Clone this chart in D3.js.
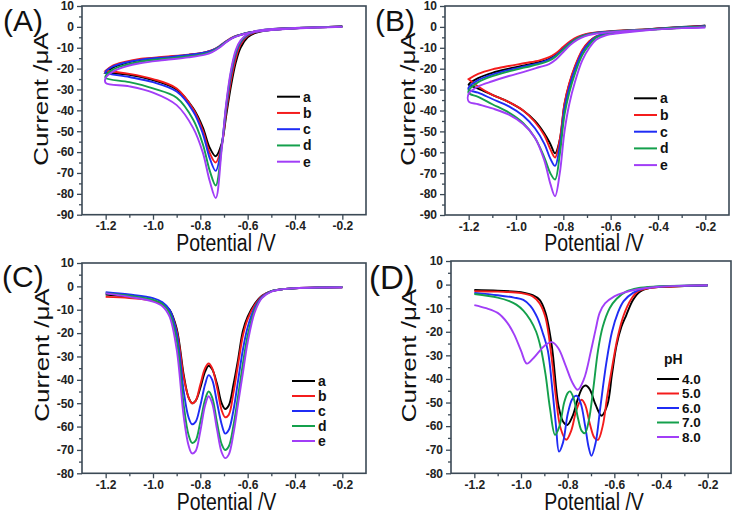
<!DOCTYPE html>
<html>
<head>
<meta charset="utf-8">
<script src="https://cdn.jsdelivr.net/npm/d3@7"></script>
<style>
  body { margin: 0; background: #fff; }
  text { font-family: "Liberation Sans", Arial, sans-serif; }
</style>
</head>
<body>
<svg id="fig" width="734" height="515"></svg>
<script>
const curveNames = ["a", "b", "c", "d", "e"];
const phLabels = ["4.0", "5.0", "6.0", "7.0", "8.0"];
const colors = ["#000000", "#f41c1c", "#1f2cf5", "#14a04c", "#a13ef7"];
const xTicks = [-1.2, -1.0, -0.8, -0.6, -0.4, -0.2];
const xMinor = [-1.1, -0.9, -0.7, -0.5, -0.3];

// (A) cyclic voltammograms: cathodic (lower) and return (upper) branches
const potA_low = [-0.2, -0.3, -0.4, -0.48, -0.53, -0.57, -0.6, -0.63, -0.65, -0.67, -0.69, -0.71, -0.735, -0.76, -0.79, -0.83, -0.9, -1.0, -1.1, -1.2];
const curA_low = [
  [0, -0.2, -0.5, -1, -1.8, -3, -5, -10, -17, -28, -42, -56, -62, -58, -48, -39, -30, -25.5, -23, -22],
  [0, -0.2, -0.5, -1, -1.6, -2.6, -4.3, -8.5, -15, -25.5, -40, -57, -65, -60.5, -49.5, -39.5, -29.5, -25, -22.5, -21],
  [0, -0.2, -0.5, -1, -1.5, -2.4, -3.9, -7.5, -13, -23, -38, -57, -69, -63, -51, -40.5, -31, -26.5, -24, -22],
  [0, -0.2, -0.5, -0.9, -1.4, -2.2, -3.6, -7, -12, -21.5, -37, -58, -76, -69, -56, -44.5, -34, -29.5, -26.5, -24.5],
  [0, -0.2, -0.5, -0.9, -1.3, -2.1, -3.4, -6.5, -11, -20.5, -36, -59, -82, -74, -60, -48.5, -37.5, -31.5, -28.5, -26.8]
];
const potA_up = [-1.2, -1.17, -1.12, -1.05, -0.95, -0.85, -0.78, -0.75, -0.72, -0.69, -0.66, -0.63, -0.59, -0.54, -0.48, -0.4, -0.3, -0.2];
const curA_up = [
  [-22, -19.5, -17.5, -15.8, -14.6, -13.5, -12.3, -11.3, -9.5, -7, -5, -3.8, -2.7, -1.9, -1.3, -0.7, -0.2, 0.2],
  [-21, -18.5, -16.8, -15.3, -14.3, -13.3, -12.2, -11.2, -9.3, -6.8, -4.8, -3.7, -2.6, -1.9, -1.3, -0.7, -0.2, 0.2],
  [-21.5, -19, -17.2, -15.7, -14.6, -13.5, -12.3, -11.3, -9.4, -6.9, -4.9, -3.7, -2.6, -1.9, -1.3, -0.7, -0.2, 0.2],
  [-23.5, -20.5, -18.4, -16.6, -15.3, -14.1, -12.8, -11.7, -9.7, -7.1, -5, -3.8, -2.7, -1.9, -1.3, -0.7, -0.2, 0.1],
  [-24.5, -21.5, -19.2, -17.3, -15.9, -14.6, -13.3, -12.1, -10, -7.3, -5.2, -3.9, -2.8, -2, -1.4, -0.8, -0.3, 0]
];

// (B) cyclic voltammograms
const potB_low = [-0.2, -0.3, -0.4, -0.5, -0.56, -0.62, -0.66, -0.69, -0.72, -0.75, -0.775, -0.795, -0.815, -0.835, -0.855, -0.88, -0.92, -0.97, -1.03, -1.1, -1.16, -1.2];
const curB_low = [
  [0.6, 0, -0.8, -1.8, -2.5, -3.4, -4.6, -7, -11.5, -19, -27.5, -37, -54, -60.5, -56, -51, -45, -40, -36, -32.5, -29.5, -27.7],
  [0.4, -0.1, -0.8, -1.7, -2.4, -3.3, -4.4, -6.8, -11, -18.5, -27, -36.5, -54, -62.5, -58.5, -52, -45.5, -40, -36, -32.5, -28.5, -25],
  [0.3, -0.2, -0.9, -1.8, -2.5, -3.4, -4.6, -7.5, -12, -20, -29, -39, -57, -66.5, -63, -56, -48.5, -42.5, -38, -34.5, -31.5, -30],
  [0.1, -0.3, -1, -1.9, -2.6, -3.6, -5, -8.5, -13.5, -22, -31.5, -42, -61, -73, -70, -62.5, -53, -46, -41, -37, -33.5, -31.7],
  [-0.4, -0.6, -1.2, -2.2, -3, -4, -6, -10, -16, -26, -37, -50, -70, -81, -75, -64, -53, -46.5, -42, -39, -37, -35.7]
];
const potB_up = [-1.2, -1.16, -1.1, -1.03, -0.96, -0.9, -0.86, -0.83, -0.8, -0.77, -0.74, -0.71, -0.67, -0.6, -0.5, -0.4, -0.3, -0.2];
const curB_up = [
  [-27.5, -24.5, -22, -20, -18.3, -16.8, -15.3, -13.2, -10.2, -7.2, -5.1, -3.8, -2.9, -2.2, -1.5, -1, -0.3, 0.6],
  [-25, -22.5, -20.3, -18.7, -17.3, -16, -14.5, -12.5, -9.5, -6.8, -4.8, -3.6, -2.8, -2.1, -1.5, -1, -0.4, 0.4],
  [-29, -25.5, -22.8, -20.6, -18.8, -17.2, -15.7, -13.6, -10.5, -7.5, -5.3, -3.9, -3, -2.2, -1.6, -1, -0.4, 0.3],
  [-30.5, -26.5, -23.6, -21.3, -19.4, -17.7, -16.2, -14, -10.9, -7.8, -5.5, -4.1, -3.1, -2.3, -1.6, -1.1, -0.5, 0.1],
  [-32, -28.5, -26, -23.5, -21.3, -19.2, -17.8, -15.5, -12, -8.6, -6.1, -4.5, -3.4, -2.5, -1.7, -1.2, -0.6, -0.3]
];

// (C) differential pulse voltammograms
const potC = [-1.2, -1.1, -1.0, -0.96, -0.93, -0.9, -0.87, -0.85, -0.835, -0.82, -0.8, -0.78, -0.765, -0.75, -0.73, -0.71, -0.695, -0.68, -0.66, -0.64, -0.62, -0.6, -0.57, -0.54, -0.5, -0.45, -0.4, -0.3, -0.2];
const curC = [
  [-3.5, -4.5, -6, -7.5, -10, -18, -38, -47.5, -50, -49, -43.5, -36.5, -34, -35.5, -41.5, -50, -52.5, -51, -42, -31, -19, -13, -7.5, -4, -2, -1.2, -0.8, -0.5, -0.4],
  [-4.5, -5, -6.2, -7.8, -10.5, -19, -39, -47.5, -50, -49, -42, -35, -33, -35, -43, -53, -56, -55, -45.5, -33, -21, -14, -8, -4.2, -2, -1.2, -0.8, -0.5, -0.4],
  [-2.5, -3.5, -5, -6.8, -10, -20, -45, -56, -59, -58, -51, -42, -38, -40, -49.5, -59, -63, -61.5, -53, -40, -27, -17.5, -9, -4.5, -2, -1.2, -0.8, -0.5, -0.4],
  [-3, -4, -5.8, -7.5, -11.5, -23, -51, -63.5, -67, -66, -58, -48.5, -45, -47.5, -58, -67.5, -70, -68.5, -59.5, -46.5, -33, -21, -10, -4.8, -2.1, -1.2, -0.8, -0.5, -0.3],
  [-3, -4.5, -6.5, -8.5, -13, -27, -56, -68, -71.5, -70.5, -62, -51, -47, -50, -61, -71, -73.5, -72, -63, -50, -37, -24, -11, -5, -2.2, -1.2, -0.8, -0.5, -0.4]
];

// (D) DPV at different pH, [potential, current] pairs
const curD_ph4 = [[-1.2, -2.3], [-1.1, -2.6], [-1.0, -3.2], [-0.95, -4.5], [-0.92, -6.5], [-0.895, -12], [-0.868, -26], [-0.84, -51], [-0.82, -58], [-0.802, -59.5], [-0.78, -56], [-0.755, -48], [-0.735, -43.5], [-0.722, -42.8], [-0.705, -44.5], [-0.68, -51], [-0.655, -55.6], [-0.63, -51], [-0.61, -38], [-0.591, -26], [-0.57, -18], [-0.549, -13], [-0.52, -6.5], [-0.49, -3], [-0.45, -1.5], [-0.4, -1], [-0.3, -0.6], [-0.2, -0.3]];
const curD_ph5 = [[-1.2, -2.8], [-1.1, -3], [-1.0, -3.6], [-0.95, -5], [-0.92, -8], [-0.895, -14], [-0.87, -30], [-0.85, -48], [-0.83, -61], [-0.806, -65.8], [-0.785, -62], [-0.765, -54], [-0.75, -50], [-0.74, -48.8], [-0.725, -51], [-0.705, -59], [-0.685, -65], [-0.67, -65.8], [-0.65, -60], [-0.63, -47], [-0.606, -33], [-0.585, -22], [-0.56, -13], [-0.53, -6.5], [-0.5, -3], [-0.45, -1.5], [-0.4, -1], [-0.3, -0.6], [-0.2, -0.3]];
const curD_ph6 = [[-1.2, -3.5], [-1.1, -4.5], [-1.03, -5.5], [-0.99, -6.5], [-0.96, -9], [-0.93, -14], [-0.905, -21], [-0.885, -28], [-0.865, -45], [-0.85, -60], [-0.837, -70.8], [-0.82, -67], [-0.8, -55], [-0.78, -48.5], [-0.762, -47.1], [-0.745, -50], [-0.725, -60], [-0.71, -69], [-0.698, -72.6], [-0.68, -67], [-0.66, -52], [-0.634, -33], [-0.61, -20], [-0.585, -12], [-0.56, -7], [-0.52, -3.5], [-0.47, -1.5], [-0.4, -0.8], [-0.2, -0.4]];
const curD_ph7 = [[-1.2, -4], [-1.1, -5.5], [-1.05, -7], [-1.02, -8.5], [-0.99, -11], [-0.96, -15], [-0.935, -20], [-0.915, -27], [-0.895, -38], [-0.875, -53], [-0.854, -63.7], [-0.835, -60], [-0.815, -50], [-0.8, -46], [-0.79, -45.3], [-0.775, -48], [-0.755, -57], [-0.74, -62], [-0.726, -63], [-0.71, -58], [-0.69, -44], [-0.67, -28], [-0.65, -18], [-0.62, -10], [-0.59, -6], [-0.55, -3], [-0.5, -1.5], [-0.42, -0.8], [-0.2, -0.3]];
const curD_ph8 = [[-1.2, -8.7], [-1.15, -10], [-1.1, -12], [-1.06, -16], [-1.03, -21], [-1.0, -28], [-0.975, -33.5], [-0.945, -31], [-0.9, -26], [-0.868, -24.4], [-0.84, -27], [-0.81, -34], [-0.78, -41.5], [-0.757, -44.6], [-0.73, -40], [-0.7, -28], [-0.68, -19], [-0.663, -12], [-0.64, -8], [-0.6, -5], [-0.563, -3.5], [-0.5, -2], [-0.42, -1], [-0.3, -0.5], [-0.2, -0.3]];

const svg = d3.select("#fig");
const axisColor = "#3b4955";

function cvLoop(potLow, low, potUp, up) {
  return potLow.map((v, i) => [v, low[i]]).concat(potUp.map((v, i) => [v, up[i]]));
}

function drawPanel(p) {
  const x = d3.scaleLinear().domain([-1.3, -0.1]).range([p.left, p.right]);
  const y = d3.scaleLinear().domain(p.yDomain).range([p.bottom, p.top]);
  const g = svg.append("g");

  const yMajor = d3.range(p.yDomain[0], p.yDomain[1] + 1, 10);
  const yMinor = d3.range(p.yDomain[0] + 5, p.yDomain[1], 10);

  // minor ticks
  g.append("g").attr("transform", `translate(0,${p.bottom})`)
    .call(d3.axisBottom(x).tickValues(xMinor).tickSize(3).tickFormat(""));
  g.append("g").attr("transform", `translate(${p.left},0)`)
    .call(d3.axisLeft(y).tickValues(yMinor).tickSize(3).tickFormat(""));

  // major ticks
  g.append("g").attr("class", "xaxis").attr("transform", `translate(0,${p.bottom})`)
    .call(d3.axisBottom(x).tickValues(xTicks).tickSize(5).tickPadding(2).tickFormat(d => d.toFixed(1)));
  g.append("g").attr("class", "yaxis").attr("transform", `translate(${p.left},0)`)
    .call(d3.axisLeft(y).tickValues(yMajor).tickSize(5).tickPadding(3).tickFormat(d => String(d)));

  g.selectAll(".domain").remove();
  g.selectAll(".tick line").attr("stroke", axisColor).attr("stroke-width", 1.3);
  g.selectAll(".tick text")
    .attr("fill", "#222")
    .style("font-size", "12px")
    .style("font-weight", "bold");

  // curves
  const line = d3.line()
    .x(d => x(d[0]))
    .y(d => y(d[1]))
    .curve(d3.curveCatmullRom.alpha(0.5));

  g.append("g").selectAll("path.curve")
    .data(p.series)
    .join("path")
    .attr("class", "curve")
    .attr("d", d => line(d))
    .attr("fill", "none")
    .attr("stroke", (d, i) => colors[i])
    .attr("stroke-width", 1.9);

  // frame
  g.append("rect")
    .attr("x", p.left).attr("y", p.top)
    .attr("width", p.right - p.left).attr("height", p.bottom - p.top)
    .attr("fill", "none").attr("stroke", axisColor).attr("stroke-width", 1.6);

  // panel letter
  g.append("text").attr("x", p.labelX).attr("y", p.labelY)
    .style("font-size", p.labelSize).attr("fill", "#111").text(p.label);

  // axis titles (the figure's lettering is stretched vertically)
  g.append("text")
    .attr("transform", `translate(${p.xtX},${p.xtY}) scale(1,1.25)`)
    .attr("text-anchor", "middle").style("font-size", "19.5px").attr("fill", "#111")
    .text("Potential /V");
  g.append("text")
    .attr("transform", `translate(${p.ytX},${p.ytY}) rotate(-90) scale(1.3,1)`)
    .attr("text-anchor", "middle").style("font-size", "20px").attr("fill", "#111")
    .text("Current /\u03bcA");

  // legend
  const lg = p.legend;
  if (lg.title) {
    g.append("text").attr("x", lg.titleX).attr("y", lg.titleY)
      .style("font-size", "14px").style("font-weight", "bold").attr("fill", "#111")
      .text(lg.title);
  }
  const rows = g.append("g").selectAll("g").data(lg.labels).join("g")
    .attr("transform", (d, i) => `translate(0,${lg.y0 + i * lg.dy})`);
  rows.append("line")
    .attr("x1", lg.x1).attr("x2", lg.x2)
    .attr("stroke", (d, i) => colors[i]).attr("stroke-width", 2);
  rows.append("text")
    .attr("x", lg.textX).attr("dy", "0.36em")
    .style("font-size", lg.fontSize).style("font-weight", "bold").attr("fill", "#111")
    .text(d => d);
}

drawPanel({
  left: 82, right: 366, top: 6, bottom: 214.7, yDomain: [-90, 10],
  series: curA_low.map((c, i) => cvLoop(potA_low, c, potA_up, curA_up[i])),
  label: "(A)", labelX: 3, labelY: 31, labelSize: "30px",
  xtX: 226, xtY: 251, ytX: 48, ytY: 99,
  legend: { labels: curveNames, x1: 277, x2: 300, y0: 96.7, dy: 16.25, textX: 303, fontSize: "14px" }
});

drawPanel({
  left: 445, right: 729, top: 6, bottom: 215, yDomain: [-90, 10],
  series: curB_low.map((c, i) => cvLoop(potB_low, c, potB_up, curB_up[i])),
  label: "(B)", labelX: 375, labelY: 31, labelSize: "30px",
  xtX: 594, xtY: 251, ytX: 414.5, ytY: 99,
  legend: { labels: curveNames, x1: 634, x2: 657, y0: 98.3, dy: 16.7, textX: 660, fontSize: "14px" }
});

drawPanel({
  left: 82, right: 366, top: 263, bottom: 473.3, yDomain: [-80, 10],
  series: curC.map(c => potC.map((v, i) => [v, c[i]])),
  label: "(C)", labelX: 2, labelY: 287, labelSize: "30px",
  xtX: 226.5, xtY: 510, ytX: 49, ytY: 355,
  legend: { labels: curveNames, x1: 292, x2: 315, y0: 381, dy: 15, textX: 318, fontSize: "14px" }
});

drawPanel({
  left: 451, right: 731, top: 261, bottom: 473.3, yDomain: [-80, 10],
  series: [curD_ph4, curD_ph5, curD_ph6, curD_ph7, curD_ph8],
  label: "(D)", labelX: 369, labelY: 289, labelSize: "33px",
  xtX: 594, xtY: 510, ytX: 416, ytY: 355.5,
  legend: { labels: phLabels, x1: 657, x2: 679, y0: 379, dy: 14.5, textX: 682, fontSize: "13.5px",
            title: "pH", titleX: 664, titleY: 364 }
});
</script>
</body>
</html>
